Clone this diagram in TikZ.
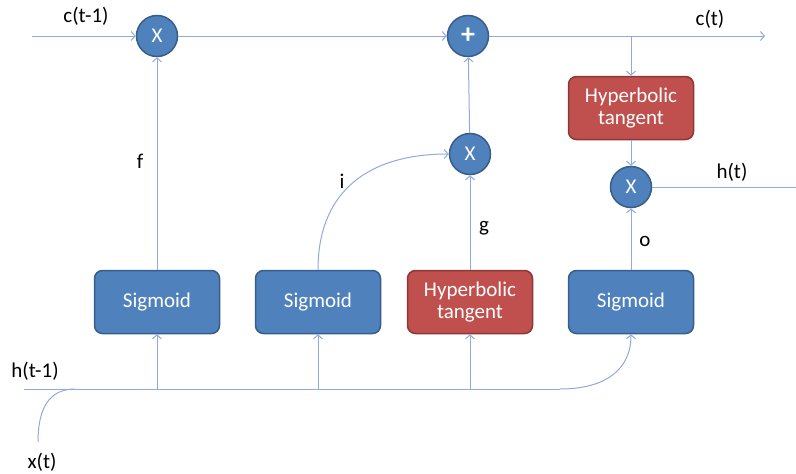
\documentclass[tikz,border=0pt]{standalone}
\usepackage{fontspec}
\setmainfont{Carlito}
\usetikzlibrary{arrows.meta}
\definecolor{lnblue}{HTML}{8FAADC}
\definecolor{boxblue}{HTML}{4F81BD}
\definecolor{edgeblue}{HTML}{385D8A}
\definecolor{boxred}{HTML}{C0504D}
\definecolor{edgered}{HTML}{8C3836}
\tikzset{
  conn/.style={draw=lnblue, line width=1pt},
  arr/.style={conn, -{Straight Barb[length=4pt,width=9pt]}},
  sigbox/.style={draw=edgeblue, fill=boxblue, line width=1.5pt, rounded corners=8pt,
     minimum width=125pt, minimum height=63pt, text=white, font=\fontsize{21}{24}\selectfont, align=center},
  tanhbox/.style={sigbox, draw=edgered, fill=boxred},
  opnode/.style={circle, draw=edgeblue, fill=boxblue, line width=1.5pt, minimum size=41pt,
     inner sep=0pt, text=white, font=\fontsize{21}{24}\selectfont},
  lbl/.style={font=\fontsize{21}{24}\selectfont, text=black, inner sep=0pt}
}
\begin{document}
\begin{tikzpicture}[x=1pt,y=-1pt]
\useasboundingbox (0,0) rectangle (796,474);
% nodes
\node[opnode] (m1) at (157,36) {X};
\node[opnode, font=\fontsize{28}{28}\bfseries] (add) at (468,36) {+};
\node[opnode] (m2) at (470,154) {X};
\node[opnode] (m3) at (631,187) {X};
\node[sigbox] (s1) at (157,302) {Sigmoid};
\node[sigbox] (s2) at (318,302) {Sigmoid};
\node[tanhbox] (t1) at (470,302) {Hyperbolic\\[-2pt]tangent};
\node[sigbox] (s4) at (631,302) {Sigmoid};
\node[tanhbox] (t2) at (631,108) {Hyperbolic\\[-2pt]tangent};
% coordinates
\coordinate (cin) at (32,36);
\coordinate (cout) at (765,36);
\coordinate (cbr) at (631,36);
\coordinate (hout) at (796,187);
\coordinate (hin) at (24,389);
\coordinate (hend) at (560,389);
\coordinate (b1) at (157,389);
\coordinate (b2) at (318,389);
\coordinate (b3) at (470,389);
\coordinate (xs) at (38,442);
\coordinate (xe) at (75,389);
% connectors
\draw[arr] (cin) -- (m1);
\draw[arr] (m1) -- (add);
\draw[arr] (add) -- (cout);
\draw[arr] (cbr) -- (t2);
\draw[arr] (t2) -- (m3);
\draw[conn] (m3) -- (hout);
\draw[arr] (s1) -- (m1);
\draw[arr] (m2) -- (add);
\draw[arr] (t1) -- (m2);
\draw[arr] (s4) -- (m3);
\draw[arr] (s2.north) .. controls (318,190) and (370,154) .. (m2.west);
\draw[conn] (hin) -- (hend);
\draw[arr] (hend) .. controls (605,389) and (631,370) .. (s4.south);
\draw[arr] (b1) -- (s1);
\draw[arr] (b2) -- (s2);
\draw[arr] (b3) -- (t1);
\draw[conn] (xs) .. controls (38,410) and (48,389) .. (xe);
% labels
\node[lbl] (lc1) at (86,16) {c(t-1)};
\node[lbl] (lc) at (710,19) {c(t)};
\node[lbl] (lh) at (732,172) {h(t)};
\node[lbl] (lh1) at (35,371) {h(t-1)};
\node[lbl] (lx) at (42,462) {x(t)};
\node[lbl] (lf) at (140,161) {f};
\node[lbl] (li) at (342,181) {i};
\node[lbl] (lg) at (484,228) {g};
\node[lbl] (lo) at (645,241) {o};
\end{tikzpicture}
\end{document}
